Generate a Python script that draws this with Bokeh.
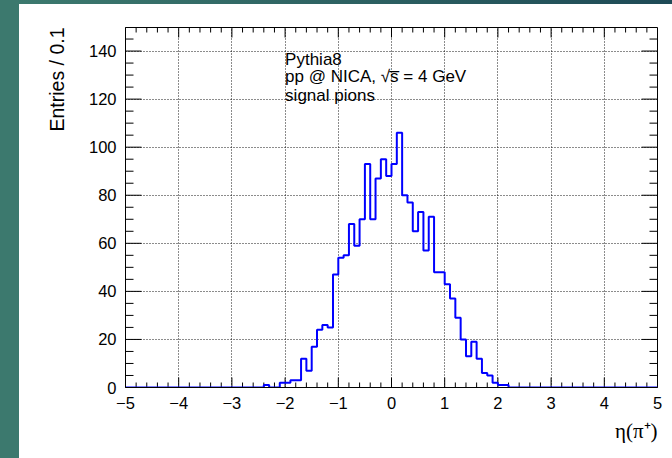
import math
from bokeh.plotting import figure
from bokeh.models import Range1d, SingleIntervalTicker, Label, Spacer, Title
from bokeh.layouts import row, column
from bokeh.embed import file_html
from bokeh.resources import INLINE

# ---- data ----
bin_low = -5.0
bin_width = 0.1
counts = [
    0, 0, 0, 0, 0, 0, 0, 0, 0, 0,
    0, 0, 0, 0, 0, 0, 0, 0, 0, 0,
    0, 0, 0, 0, 0, 0, 1, 0, 0, 2,
    2, 3, 3, 12, 7, 17, 24, 26, 25, 47,
    54, 55, 68, 59, 70, 93, 70, 87, 95, 88,
    93, 106, 80, 77, 65, 73, 57, 71, 48, 48,
    43, 37, 29, 20, 13, 19, 12, 6, 5, 2,
    1, 1, 0, 0, 0, 0, 0, 0, 0, 0,
    0, 0, 0, 0, 0, 0, 0, 0, 0, 0,
    0, 0, 0, 0, 0, 0, 0, 0, 0, 0,
]
x_ticks = [-5, -4, -3, -2, -1, 0, 1, 2, 3, 4, 5]
x_tick_labels = ["\u22125", "\u22124", "\u22123", "\u22122", "\u22121", "0", "1", "2", "3", "4", "5"]
x_minor_step = 0.2
y_ticks = [0, 20, 40, 60, 80, 100, 120, 140]
y_tick_labels = ["0", "20", "40", "60", "80", "100", "120", "140"]
y_minor_step = 5
info_lines = ["Pythia8", "pp @ NICA, \u221As\u0305 = 4 GeV", "signal pions"]
x_title = "\u03b7(\u03c0\u207a)"
y_title = "Entries / 0.1"

edges = [bin_low + bin_width * i for i in range(len(counts) + 1)]
step_y = counts + [counts[-1]]

FONT = "Liberation Sans"
XMIN, XMAX = -5.0, 5.0
YMIN, YMAX = 0.0, 149.8
W, H = 653, 454
BL, BR, BT, BB = 106, 15, 23, 71
FW, FH = W - BL - BR, H - BT - BB
px_x = (XMAX - XMIN) / FW   # data units per pixel
px_y = (YMAX - YMIN) / FH

p = figure(width=W, height=H, x_range=Range1d(XMIN, XMAX), y_range=Range1d(YMIN, YMAX),
           output_backend="svg", toolbar_location=None,
           min_border_left=BL, min_border_right=BR, min_border_top=BT, min_border_bottom=BB)
p.background_fill_color = "white"
p.border_fill_color = "white"
p.outline_line_color = "black"
p.outline_line_width = 1

p.xaxis.ticker = SingleIntervalTicker(interval=1, num_minor_ticks=5)
p.yaxis.ticker = SingleIntervalTicker(interval=20, num_minor_ticks=4)
for ax in (p.xaxis[0], p.yaxis[0]):
    ax.major_tick_in = 0
    ax.major_tick_out = 0
    ax.minor_tick_in = 0
    ax.minor_tick_out = 0
    ax.axis_line_color = "black"
    ax.major_label_text_font = FONT
    ax.major_label_text_font_size = "16.5px"
    ax.major_label_text_color = "black"
p.xaxis.major_label_overrides = {t: l for t, l in zip(x_ticks, x_tick_labels)}
p.yaxis.major_label_overrides = {t: l for t, l in zip(y_ticks, y_tick_labels)}
p.xaxis.major_label_standoff = 9
p.yaxis.major_label_standoff = 9

for g in (p.xgrid[0], p.ygrid[0]):
    g.grid_line_color = "black"
    g.grid_line_dash = "1 2"
    g.grid_line_width = 1
    g.grid_line_alpha = 0.9

# inward ticks on all four sides (ROOT style)
x_minor = []
for t in x_ticks[:-1]:
    x_minor += [t + x_minor_step * k for k in range(1, 5)]
y_minor = []
for t in y_ticks:
    y_minor += [t + y_minor_step * k for k in range(1, 4) if t + y_minor_step * k < YMAX]

xmaj_len, xmin_len = 10 * px_y, 5 * px_y
ymaj_len, ymin_len = 16 * px_x, 8 * px_x
for xs, ln in ((x_ticks, xmaj_len), (x_minor, xmin_len)):
    p.segment(x0=xs, y0=[YMIN] * len(xs), x1=xs, y1=[YMIN + ln] * len(xs), line_color="black", line_width=1)
    p.segment(x0=xs, y0=[YMAX] * len(xs), x1=xs, y1=[YMAX - ln] * len(xs), line_color="black", line_width=1)
for ys, ln in ((y_ticks, ymaj_len), (y_minor, ymin_len)):
    p.segment(x0=[XMIN] * len(ys), y0=ys, x1=[XMIN + ln] * len(ys), y1=ys, line_color="black", line_width=1)
    p.segment(x0=[XMAX] * len(ys), y0=ys, x1=[XMAX - ln] * len(ys), y1=ys, line_color="black", line_width=1)

p.step(x=edges, y=step_y, mode="after", line_color="#0000ff", line_width=2)

# info text
for txt, yy in zip(info_lines, [136.6, 129.3, 121.6]):
    p.add_layout(Label(x=-2.0, y=yy, text=txt, text_font=FONT, text_font_size="17px",
                       text_color="black", text_baseline="alphabetic", text_align="left"))

# axis titles (ROOT puts them at the axis end)
p.add_layout(Title(text=y_title, align="right", text_font=FONT, text_font_size="19.5px",
                   text_font_style="normal", text_color="black", standoff=35), "left")
p.add_layout(Title(text=x_title, align="right", text_font="Liberation Serif", text_font_size="21px",
                   text_font_style="normal", text_color="black", standoff=10), "below")

left_strip = Spacer(width=19, height=458, styles={"background-color": "#3c796e"})
top_strip = Spacer(width=653, height=4, styles={"background": "linear-gradient(to right, #3c796e, #1e4a56)"})
layout = row(left_strip, column(top_strip, p))

open("out.html", "w").write(file_html(layout, INLINE))
